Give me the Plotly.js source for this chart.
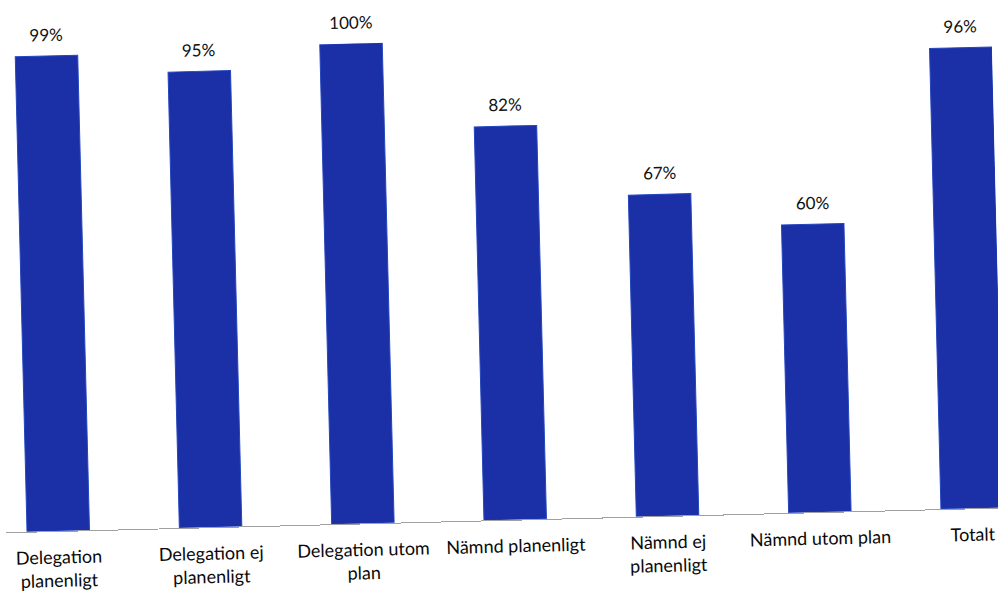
<!DOCTYPE html>
<html>
<head>
<meta charset="utf-8">
<script src="https://cdn.plot.ly/plotly-3.0.1.min.js"></script>
<style>
html,body{margin:0;padding:0;background:#fff;overflow:hidden;}
#chart{width:998px;height:593px;transform:rotate(-1.42deg);transform-origin:499px 296px;}
</style>
</head>
<body>
<div id="chart"></div>
<script>
var categories = ["Delegation<br>planenligt", "Delegation ej<br>planenligt", "Delegation utom<br>plan", "Nämnd planenligt", "Nämnd ej<br>planenligt", "Nämnd utom plan", "Totalt"];
var values = [99, 95, 100, 82, 67, 60, 96];
var valueLabels = ["99%", "95%", "100%", "82%", "67%", "60%", "96%"];

var positions = categories.map(function(c, i){ return i; });

var trace = {
  type: 'bar',
  x: positions,
  y: values,
  width: 0.41,
  marker: {color: '#1b2fa6', line: {color: '#2446c0', width: 1}},
  hoverinfo: 'none'
};

var annotations = positions.map(function(p, i){
  return {
    x: p, y: values[i], xref: 'x', yref: 'y',
    text: valueLabels[i], showarrow: false,
    yanchor: 'bottom', yshift: 9,
    font: {family: 'Lato, "Open Sans", sans-serif', size: 17, color: '#111'}
  };
});

var layout = {
  width: 998, height: 593,
  margin: {l: 0, r: 0, t: 40, b: 73},
  paper_bgcolor: '#ffffff',
  plot_bgcolor: '#ffffff',
  showlegend: false,
  annotations: annotations,
  xaxis: {
    range: [-0.345, 6.205],
    tickmode: 'array',
    tickvals: positions,
    ticktext: categories,
    tickangle: 0,
    ticks: 'outside', ticklen: 10, tickcolor: 'rgba(0,0,0,0)',
    tickfont: {family: 'Lato, "Open Sans", sans-serif', size: 18, color: '#0a0a0a'},
    showline: true, linecolor: '#a0a0a0', linewidth: 1,
    showgrid: false, zeroline: false, fixedrange: true
  },
  yaxis: {
    range: [0, 100],
    visible: false, showgrid: false, zeroline: false, fixedrange: true
  }
};

Plotly.newPlot('chart', [trace], layout, {displayModeBar: false, staticPlot: true});
</script>
</body>
</html>
